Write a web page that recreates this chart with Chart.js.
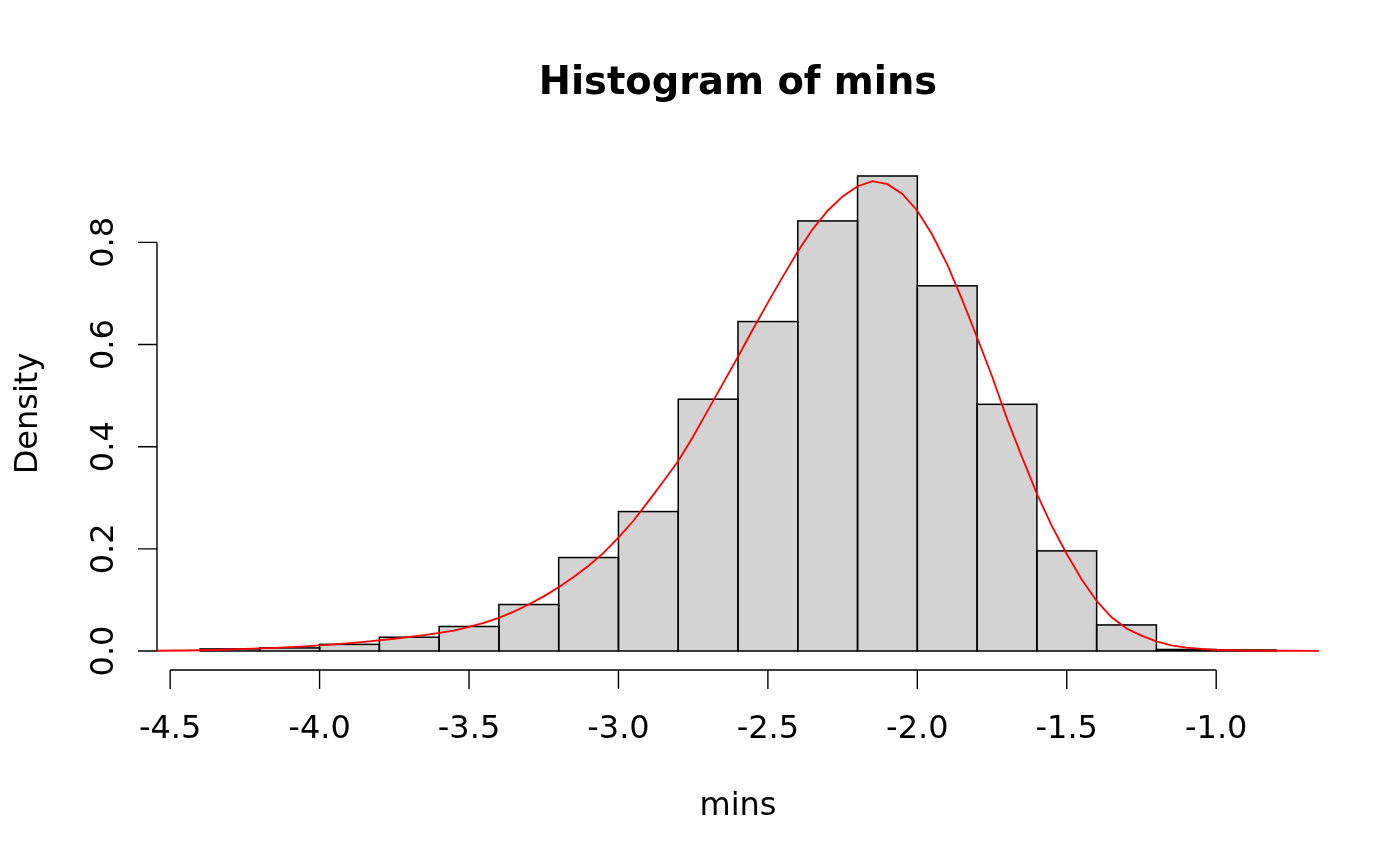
<!DOCTYPE html>
<html>
<head>
<meta charset="utf-8">
<script src="https://cdn.jsdelivr.net/npm/chart.js@4.4.1/dist/chart.umd.min.js"></script>
<style>
  html, body { margin: 0; padding: 0; background: #ffffff; }
  #wrap { width: 1400px; height: 866px; position: relative; }
</style>
</head>
<body>
<div id="wrap"><canvas id="c"></canvas></div>
<script>
// ---- data ----
const binCenters = [-4.3, -4.1, -3.9, -3.7, -3.5, -3.3, -3.1, -2.9, -2.7, -2.5, -2.3, -2.1, -1.9, -1.7, -1.5, -1.3, -1.1, -0.9];
const binDensity = [0.004, 0.006, 0.013, 0.027, 0.048, 0.091, 0.183, 0.273, 0.493, 0.645, 0.842, 0.930, 0.715, 0.483, 0.196, 0.051, 0.003, 0.002];

const curveX = [-4.544, -4.45, -4.35, -4.25, -4.15, -4.05, -3.95, -3.85, -3.75, -3.65, -3.55, -3.45, -3.4, -3.35, -3.3, -3.25, -3.2, -3.15, -3.1, -3.05, -3.0, -2.95, -2.9, -2.85, -2.8, -2.75, -2.7, -2.65, -2.6, -2.55, -2.5, -2.45, -2.4, -2.35, -2.3, -2.25, -2.2, -2.15, -2.1, -2.05, -2.0, -1.95, -1.9, -1.85, -1.8, -1.75, -1.7, -1.65, -1.6, -1.55, -1.5, -1.45, -1.4, -1.35, -1.3, -1.25, -1.2, -1.15, -1.1, -1.05, -1.0, -0.9, -0.8, -0.656];
const curveY = [0.0005, 0.001, 0.002, 0.004, 0.006, 0.009, 0.013, 0.018, 0.024, 0.031, 0.040, 0.055, 0.065, 0.077, 0.091, 0.107, 0.125, 0.145, 0.167, 0.192, 0.222, 0.255, 0.293, 0.332, 0.372, 0.420, 0.472, 0.524, 0.576, 0.630, 0.682, 0.733, 0.782, 0.826, 0.862, 0.890, 0.910, 0.920, 0.914, 0.895, 0.862, 0.815, 0.757, 0.688, 0.614, 0.538, 0.455, 0.380, 0.308, 0.245, 0.190, 0.140, 0.098, 0.066, 0.044, 0.030, 0.019, 0.011, 0.0065, 0.004, 0.002, 0.001, 0.0005, 0.0002];

const xTicks = [-4.5, -4.0, -3.5, -3.0, -2.5, -2.0, -1.5, -1.0];
const xTickLabels = ["-4.5", "-4.0", "-3.5", "-3.0", "-2.5", "-2.0", "-1.5", "-1.0"];
const yTicks = [0.0, 0.2, 0.4, 0.6, 0.8];
const yTickLabels = ["0.0", "0.2", "0.4", "0.6", "0.8"];

const titleText = "Histogram of mins";
const xLabel = "mins";
const yLabel = "Density";

// ---- build datasets ----
const barData = binCenters.map((x, i) => ({ x: x, y: binDensity[i] }));
const lineData = curveX.map((x, i) => ({ x: x, y: curveY[i] }));

const FONT = "'DejaVu Sans', 'Liberation Sans', sans-serif";

// Outline each histogram bar (R style, stroke centred on the edges) using the bar elements' own geometry
const barOutline = {
  id: 'barOutline',
  afterDatasetDraw(chart, args) {
    if (chart.data.datasets[args.index].type !== 'bar') return;
    const ctx = chart.ctx;
    ctx.save();
    ctx.strokeStyle = '#000000';
    ctx.lineWidth = 1.5;
    args.meta.data.forEach(el => {
      const p = el.getProps(['x', 'y', 'base', 'width'], true);
      ctx.strokeRect(p.x - p.width / 2, Math.min(p.y, p.base), p.width, Math.abs(p.base - p.y));
    });
    ctx.restore();
  }
};

const rAxes = {
  id: 'rAxes',
  afterDraw(chart) {
    const ctx = chart.ctx;
    const xs = chart.scales.x, ys = chart.scales.y;
    const area = chart.chartArea;
    ctx.save();
    ctx.strokeStyle = '#000000';
    ctx.fillStyle = '#000000';
    ctx.lineWidth = 1.4;
    ctx.lineCap = 'butt';
    const tick = 19;

    // x axis
    const xa = xs.getPixelForValue(xTicks[0]);
    const xb = xs.getPixelForValue(xTicks[xTicks.length - 1]);
    const yAxisY = area.bottom;
    ctx.beginPath();
    ctx.moveTo(xa, yAxisY); ctx.lineTo(xb, yAxisY);
    xTicks.forEach(v => {
      const px = xs.getPixelForValue(v);
      ctx.moveTo(px, yAxisY); ctx.lineTo(px, yAxisY + tick);
    });
    ctx.stroke();
    ctx.font = '32px ' + FONT;
    ctx.textAlign = 'center';
    ctx.textBaseline = 'alphabetic';
    xTicks.forEach((v, i) => {
      ctx.fillText(xTickLabels[i], xs.getPixelForValue(v), 738);
    });

    // y axis
    const ya = ys.getPixelForValue(yTicks[0]);
    const yb = ys.getPixelForValue(yTicks[yTicks.length - 1]);
    const xAxisX = area.left;
    ctx.beginPath();
    ctx.moveTo(xAxisX, ya); ctx.lineTo(xAxisX, yb);
    yTicks.forEach(v => {
      const py = ys.getPixelForValue(v);
      ctx.moveTo(xAxisX, py); ctx.lineTo(xAxisX - tick, py);
    });
    ctx.stroke();
    yTicks.forEach((v, i) => {
      const py = ys.getPixelForValue(v);
      ctx.save();
      ctx.translate(113, py);
      ctx.rotate(-Math.PI / 2);
      ctx.textAlign = 'center';
      ctx.fillText(yTickLabels[i], 0, 0);
      ctx.restore();
    });

    // axis titles
    const cx = (area.left + area.right) / 2;
    const cy = (area.top + area.bottom) / 2;
    ctx.textAlign = 'center';
    ctx.fillText(xLabel, cx, 815);
    ctx.save();
    ctx.translate(37, cy);
    ctx.rotate(-Math.PI / 2);
    ctx.fillText(yLabel, 0, 0);
    ctx.restore();

    // main title
    ctx.font = 'bold 38.4px ' + FONT;
    ctx.fillText(titleText, cx, 94);
    ctx.restore();
  }
};

new Chart(document.getElementById('c'), {
  type: 'bar',
  data: {
    datasets: [
      {
        type: 'line',
        data: lineData,
        borderColor: '#FF0000',
        borderWidth: 1.8,
        pointRadius: 0,
        tension: 0,
        fill: false,
        order: 0
      },
      {
        type: 'bar',
        data: barData,
        backgroundColor: '#D3D3D3',
        borderWidth: 0,
        barPercentage: 1.0,
        categoryPercentage: 1.0,
        order: 1
      }
    ]
  },
  options: {
    responsive: true,
    maintainAspectRatio: false,
    animation: false,
    devicePixelRatio: 1,
    layout: { padding: { left: 157, right: 81, top: 157, bottom: 196 } },
    plugins: { legend: { display: false }, title: { display: false }, tooltip: { enabled: false } },
    scales: {
      x: {
        type: 'linear',
        min: -4.544,
        max: -0.656,
        offset: false,
        display: false,
        afterBuildTicks: (s) => { s.ticks = xTicks.map(v => ({ value: v })); }
      },
      y: {
        type: 'linear',
        min: -0.0372,
        max: 0.9672,
        display: false,
        afterBuildTicks: (s) => { s.ticks = yTicks.map(v => ({ value: v })); }
      }
    }
  },
  plugins: [barOutline, rAxes]
});
</script>
</body>
</html>
